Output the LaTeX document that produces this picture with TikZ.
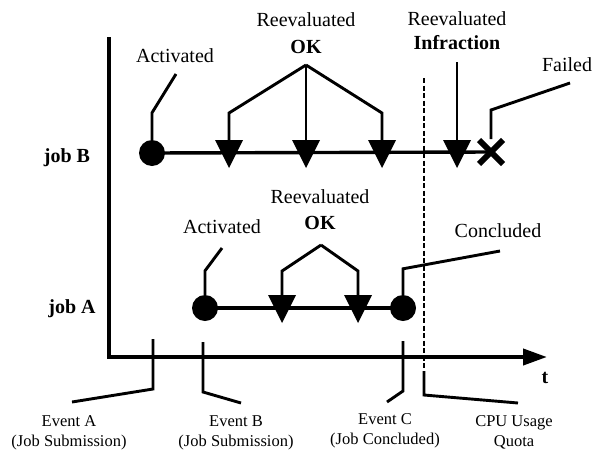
\documentclass[tikz,border=0pt]{standalone}
\usepackage{fontspec}
\setmainfont{Liberation Serif}
\usetikzlibrary{arrows.meta,calc}
\begin{document}
\begin{tikzpicture}[x=1pt,y=-1pt,
  lbl/.style={font=\fontsize{20}{24}\selectfont, inner sep=0pt, align=center},
  bl/.style={lbl, anchor=base},
  small/.style={font=\fontsize{16.5}{20}\selectfont, inner sep=0pt, align=center, anchor=north},
  dot/.style={circle, fill=black, minimum size=26pt, inner sep=0pt},
  lead/.style={line width=2.9pt, line join=miter},
  job/.style={line width=3.4pt},
  axis/.style={line width=4pt, line join=miter},
  crossline/.style={line width=5.8pt},
  quota/.style={line width=2.2pt, dash pattern=on 5pt off 2.5pt},
  pics/downtri/.style={code={\fill (-14,-13) -- (14,-13) -- (0,15) -- cycle;}},
]
\useasboundingbox (0,0) rectangle (596,450);

% axes
\coordinate (ytop) at (109,37);
\coordinate (origin) at (109,357);
\coordinate (xend) at (547,357);
\draw[axis, -{Triangle[length=24pt,width=16pt]}] (ytop) -- (origin) -- (xend);
\node[bl, font=\fontsize{20}{24}\selectfont\bfseries] (t) at (545,383) {t};

% row labels
\node[bl, font=\fontsize{20}{24}\selectfont\bfseries] (jobB) at (67,162) {job B};
\node[bl, font=\fontsize{20}{24}\selectfont\bfseries] (jobA) at (72,313) {job A};

% ---------------- job B ----------------
\node[dot] (cB) at (152,153) {};
\coordinate (tB1) at (229,153);
\coordinate (tB2) at (306,153);
\coordinate (tB3) at (382,153);
\coordinate (tB4) at (457,153);
\coordinate (xB) at (491,152);
\draw[job] (cB.center) -- (xB);
\pic at (tB1) {downtri};
\pic at (tB2) {downtri};
\pic at (tB3) {downtri};
\pic at (tB4) {downtri};
\draw[crossline] ($(xB)+(-12,-12)$) -- ($(xB)+(12,12)$);
\draw[crossline] ($(xB)+(-12,12)$) -- ($(xB)+(12,-12)$);

\node[bl] (actB) at (175,62) {Activated};
\coordinate (actBa) at (176,74);
\draw[lead] (actBa) -- ($(cB.north)+(0,-27)$) -- (cB.north);

\node[lbl, anchor=north, font=\fontsize{20}{26.7}\selectfont] (okB) at (306,12.3) {Reevaluated\\\textbf{OK}};
\coordinate (okBa) at (306,65);
\draw[lead] (okBa) -- ($(tB1)+(0,-40)$) -- ($(tB1)+(0,-13)$);
\draw[lead] (okBa) -- ($(tB2)+(0,-13)$);
\draw[lead] (okBa) -- ($(tB3)+(0,-40)$) -- ($(tB3)+(0,-13)$);

\node[lbl, anchor=north, font=\fontsize{20}{24.5}\selectfont] (infB) at (457,11.3) {Reevaluated\\\textbf{Infraction}};
\coordinate (infBa) at (457,62);
\draw[lead] (infBa) -- ($(tB4)+(0,-13)$);

\node[bl] (failB) at (567,71) {Failed};
\coordinate (failBa) at (570,83);
\draw[lead] (failBa) -- ($(xB)+(0,-42)$) -- ($(xB)+(0,-13)$);

% ---------------- job A ----------------
\node[dot] (cA1) at (205,308) {};
\node[dot] (cA2) at (403,308) {};
\coordinate (tA1) at (282,308);
\coordinate (tA2) at (358,308);
\draw[job] (cA1.center) -- (cA2.center);
\pic at (tA1) {downtri};
\pic at (tA2) {downtri};

\node[bl] (actA) at (222,233) {Activated};
\coordinate (actAa) at (222,248);
\draw[lead] (actAa) -- ($(cA1.north)+(0,-24)$) -- (cA1.north);

\node[lbl, anchor=north, font=\fontsize{20}{26}\selectfont] (okA) at (320,189.3) {Reevaluated\\\textbf{OK}};
\coordinate (okAa) at (321,245);
\draw[lead] (okAa) -- ($(tA1)+(0,-37)$) -- ($(tA1)+(0,-13)$);
\draw[lead] (okAa) -- ($(tA2)+(0,-37)$) -- ($(tA2)+(0,-13)$);

\node[bl] (concA) at (498,237) {Concluded};
\coordinate (concAa) at (500,251);
\draw[lead] (concAa) -- ($(cA2.north)+(0,-26)$) -- (cA2.north);

% ---------------- quota line ----------------
\coordinate (qTop) at (424,78);
\coordinate (qBot) at (424,368);
\draw[quota] (qTop) -- (qBot);

% ---------------- events ----------------
\node[small] (evA) at (69,415.1) {Event A\\(Job Submission)};
\node[small] (evB) at (236,415.1) {Event B\\(Job Submission)};
\node[small] (evC) at (385,413.1) {Event C\\(Job Concluded)};
\node[small] (cpu) at (514,415.1) {CPU Usage\\Quota};

\coordinate (evAt) at (153,339);
\coordinate (evAe) at (72,402);
\draw[lead] (evAt) -- (153,389) -- (evAe);
\coordinate (evBt) at (203,342);
\coordinate (evBe) at (241,403);
\draw[lead] (evBt) -- (203,392) -- (evBe);
\coordinate (evCt) at (403,341);
\coordinate (evCe) at (387,402);
\draw[lead] (evCt) -- (403,391) -- (evCe);
\coordinate (cpuT) at (424,371);
\coordinate (cpuE) at (518,403);
\draw[lead] (cpuT) -- (424,395) -- (cpuE);
\end{tikzpicture}
\end{document}
